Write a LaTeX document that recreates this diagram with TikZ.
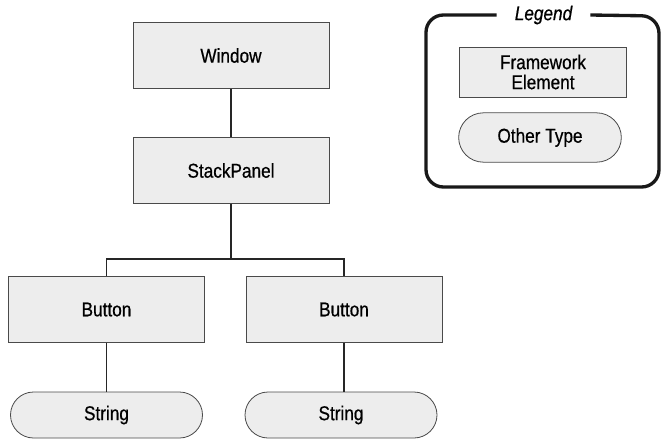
\documentclass[tikz,border=0pt]{standalone}
\usepackage{fontspec}
\setmainfont{Liberation Sans}[FakeStretch=0.86, FakeBold=0.6]
\usetikzlibrary{shapes.misc, positioning}

\definecolor{grigiochiaro}{HTML}{EDEDED}
\definecolor{bordo}{HTML}{4A4A4A}

\begin{document}
\begin{tikzpicture}[
  x=0.75pt, y=-0.75pt,
  font=\fontsize{15}{16}\selectfont,
  elemento/.style={draw=bordo, fill=grigiochiaro, line width=0.6pt,
                   minimum width=147pt, minimum height=49pt, inner sep=2pt, align=center},
  altrotipo/.style={rounded rectangle, draw=bordo, fill=grigiochiaro, line width=0.6pt,
                    minimum width=148pt, minimum height=34.5pt, inner sep=2pt},
  fdline/.style={draw=black!85, line width=1pt},
  cornice/.style={draw=black!90, line width=2.5pt, rounded corners=13pt}
]
\useasboundingbox (0,0) rectangle (661,439);

%--------------------------------------------------------------
% Albero degli elementi
%--------------------------------------------------------------
\node[elemento] (finestra) at (231,55.5) {Window};
\node[elemento] (pannello) at (231,170.5) {StackPanel};
\node[elemento] (bottone1) at (106.5,309.5) {Button};
\node[elemento] (bottone2) at (344,309.5) {Button};
\node[altrotipo] (stringa1) at (106.5,415) {String};
\node[altrotipo] (stringa2) at (341,415) {String};

%--------------------------------------------------------------
% Collegamenti
%--------------------------------------------------------------
\coordinate (ramo) at (231,259);
\draw[fdline] (finestra.south) -- (pannello.north);
\draw[fdline] (pannello.south) -- (ramo);
\draw[fdline] (bottone1.north) |- (ramo) -| (bottone2.north);
\draw[fdline] (bottone1.south) -- (bottone1.south |- stringa1.north);
\draw[fdline] (bottone2.south) -- (bottone2.south |- stringa2.north);

%--------------------------------------------------------------
% Legenda
%--------------------------------------------------------------
\node[inner sep=0pt, minimum width=70pt] (titolo) at (543.5,15) {\itshape Legend};
\node[elemento, minimum width=125pt, minimum height=37.5pt, inner sep=1pt,
      font=\fontsize{15}{15}\selectfont] (esempio1) at (543,72) {Framework\\ Element};
\node[altrotipo, minimum width=126pt, minimum height=37pt] (esempio2) at (540,137.5) {Other Type};
\draw[cornice] (titolo.west) -| (426,187) -| (659,16) -- (titolo.east);

\end{tikzpicture}
\end{document}
